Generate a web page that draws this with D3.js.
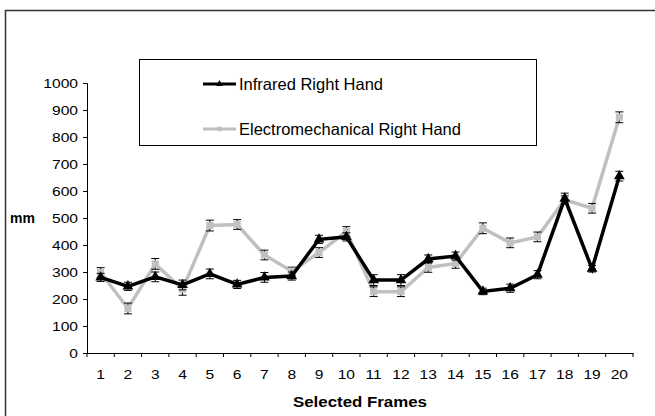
<!DOCTYPE html>
<html lang="en">
<head>
<meta charset="UTF-8">
<title>Infrared vs electromechanical right hand</title>
<script src="https://cdn.jsdelivr.net/npm/d3@7/dist/d3.min.js"></script>
<style>
  body { margin: 0; background: #fff; }
  svg { display: block; font-family: "Liberation Sans", Arial, sans-serif; }
</style>
</head>
<body>
<div id="chart"></div>
<script>
// data
var frames = d3.range(1, 21).map(String);
var infrared = [280, 247, 282, 252, 293, 254, 280, 285, 421, 430, 270, 270, 348, 359, 228, 240, 290, 572, 312, 655];
var infraredErr = [15, 15, 18, 18, 18, 15, 18, 15, 15, 15, 20, 20, 15, 15, 12, 15, 15, 20, 12, 18];
var electro = [298, 165, 330, 236, 472, 476, 363, 303, 372, 450, 227, 227, 317, 332, 462, 408, 430, 567, 536, 873];
var electroErr = [18, 20, 20, 22, 20, 18, 18, 15, 18, 18, 18, 18, 18, 18, 20, 18, 18, 15, 18, 20];
var yTicks = d3.range(0, 1001, 100);

var w = 655, h = 416;
var plotL = 87, plotR = 633, plotT = 83, plotB = 353;
var stretch = 1.3; // the original's axis text is wider than it is tall

var svg = d3.select("#chart").append("svg")
  .attr("width", w)
  .attr("height", h);

// outer chart border (cut off at the right and bottom)
svg.append("rect")
  .attr("x", 5.5).attr("y", 10.5)
  .attr("width", 700).attr("height", 500)
  .attr("fill", "none")
  .attr("stroke", "#333")
  .attr("stroke-width", 1.5);

var x = d3.scaleBand().domain(frames).range([plotL, plotR]);
var y = d3.scaleLinear().domain([0, 1000]).range([plotB, plotT]);

// y axis
var yAxis = svg.append("g")
  .attr("transform", "translate(" + plotL + ",0)")
  .call(d3.axisLeft(y).tickValues(yTicks).tickFormat(d3.format("d")).tickSize(4));

yAxis.selectAll(".tick text")
  .attr("x", 0)
  .attr("dy", null)
  .attr("y", 4.3)
  .attr("transform", "translate(-9,0) scale(" + stretch + ",1)");

// x axis, ticks sit between categories
var xAxis = svg.append("g")
  .attr("transform", "translate(0," + plotB + ")")
  .call(d3.axisBottom(x).tickSize(0));

xAxis.selectAll(".tick text")
  .attr("y", 0)
  .attr("dy", null)
  .attr("transform", "translate(0,26) scale(" + stretch + ",1)");

xAxis.selectAll(".xb")
  .data(d3.range(0, 21))
  .enter().append("line")
  .attr("class", "xb")
  .attr("x1", function(i) { return plotL + i * x.step(); })
  .attr("x2", function(i) { return plotL + i * x.step(); })
  .attr("y1", 0).attr("y2", 4)
  .attr("stroke", "#000");

[yAxis, xAxis].forEach(function(g) {
  g.select(".domain").attr("stroke", "#000");
  g.selectAll(".tick line").attr("stroke", "#000");
  g.selectAll("text").attr("font-size", 12).attr("fill", "#000")
    .attr("font-family", "Liberation Sans, Arial, sans-serif");
});

// axis titles
svg.append("text")
  .attr("x", 10).attr("y", 223)
  .attr("font-size", 14).attr("font-weight", "bold")
  .text("mm");

svg.append("text")
  .attr("x", 293).attr("y", 407)
  .attr("font-size", 14).attr("font-weight", "bold")
  .attr("textLength", 134)
  .attr("lengthAdjust", "spacingAndGlyphs")
  .text("Selected Frames");

var cx = function(d, i) { return x(frames[i]) + x.bandwidth() / 2; };

function drawSeries(vals, errs, color, marker) {
  var line = d3.line()
    .x(function(d, i) { return cx(d, i); })
    .y(function(d) { return y(d); });

  svg.append("path")
    .datum(vals)
    .attr("d", line)
    .attr("fill", "none")
    .attr("stroke", color)
    .attr("stroke-width", 3.5)
    .attr("stroke-linejoin", "miter");

  var eb = svg.append("g");
  vals.forEach(function(v, i) {
    var px = cx(v, i);
    eb.append("line")
      .attr("x1", px).attr("x2", px)
      .attr("y1", y(v - errs[i])).attr("y2", y(v + errs[i]))
      .attr("stroke", "#000");
    [v - errs[i], v + errs[i]].forEach(function(e) {
      eb.append("line")
        .attr("x1", px - 4).attr("x2", px + 4)
        .attr("y1", y(e)).attr("y2", y(e))
        .attr("stroke", "#000");
    });
  });

  svg.append("g").selectAll("path")
    .data(vals)
    .enter().append("path")
    .attr("transform", function(d, i) { return "translate(" + cx(d, i) + "," + y(d) + ")"; })
    .attr("d", d3.symbol().type(marker).size(marker === d3.symbolTriangle ? 50 : 50))
    .attr("fill", color);
}

drawSeries(electro, electroErr, "#c0c0c0", d3.symbolSquare);
drawSeries(infrared, infraredErr, "#000", d3.symbolTriangle);

// legend
var lg = svg.append("g");
lg.append("rect")
  .attr("x", 139.5).attr("y", 59.5)
  .attr("width", 397).attr("height", 86)
  .attr("fill", "#fff")
  .attr("stroke", "#000");

var legendItems = [
  { name: "Infrared Right Hand", color: "#000", marker: d3.symbolTriangle, y: 84 },
  { name: "Electromechanical Right Hand", color: "#c0c0c0", marker: d3.symbolSquare, y: 129 }
];

legendItems.forEach(function(it) {
  lg.append("line")
    .attr("x1", 203).attr("x2", 236)
    .attr("y1", it.y).attr("y2", it.y)
    .attr("stroke", it.color).attr("stroke-width", 3);
  lg.append("path")
    .attr("transform", "translate(219.5," + it.y + ")")
    .attr("d", d3.symbol().type(it.marker).size(20))
    .attr("fill", it.color);
  lg.append("text")
    .attr("x", 239).attr("y", it.y + 6)
    .attr("font-size", 16.5)
    .text(it.name);
});
</script>
</body>
</html>
